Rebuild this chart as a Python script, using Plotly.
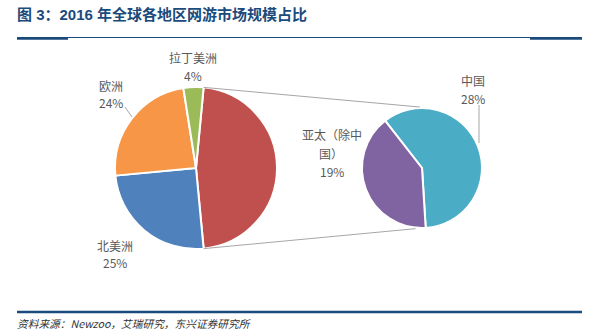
import math
import plotly.graph_objects as go

W, H = 593, 333

# Main pie: Asia-Pacific total is split out into the secondary pie
main_labels = ["亚太", "北美洲", "欧洲", "拉丁美洲"]
main_values = [47, 25, 24, 4]
main_colors = ["#C0504D", "#4F81BD", "#F79646", "#9BBB59"]

# Secondary pie: breakdown of Asia-Pacific
sub_labels = ["中国", "亚太（除中国）"]
sub_values = [28, 19]
sub_colors = ["#4BACC6", "#8064A2"]

title_text = "图 3：2016 年全球各地区网游市场规模占比"
source_text = "资料来源：Newzoo，艾瑞研究，东兴证券研究所"

FONT = "Noto Sans CJK SC, Noto Sans, sans-serif"
TITLE_FONT = "Liberation Sans, Noto Sans CJK SC, sans-serif"
LABEL_COLOR = "#595959"
NAVY = "#1B4A7C"

# Pie geometry in pixels (center x, center y, radius)
LC = (196, 168, 81)
RC = (422, 168, 60)


def px(x):
    return x / W


def py(y):
    return 1 - y / H


def domain(c):
    cx, cy, r = c
    return dict(x=[px(cx - r), px(cx + r)], y=[py(cy + r), py(cy - r)])


def point(c, ang_deg, rr=None):
    cx, cy, r = c
    rr = r if rr is None else rr
    a = math.radians(ang_deg)
    return cx + rr * math.sin(a), cy - rr * math.cos(a)


# The split slice is centred at 3 o'clock
split_share = main_values[0] / sum(main_values) * 360
main_rot = 90 - split_share / 2
sub_rot = -38

fig = go.Figure()
fig.add_trace(go.Pie(
    labels=main_labels, values=main_values, sort=False, direction="clockwise",
    rotation=main_rot, domain=domain(LC), textinfo="none", hoverinfo="label+value",
    marker=dict(colors=main_colors, line=dict(color="white", width=2)),
    showlegend=False,
))
fig.add_trace(go.Pie(
    labels=sub_labels, values=sub_values, sort=False, direction="clockwise",
    rotation=sub_rot, domain=domain(RC), textinfo="none", hoverinfo="label+value",
    marker=dict(colors=sub_colors, line=dict(color="white", width=2)),
    showlegend=False,
))

shapes = []
# Connector lines between the split slice and the secondary pie
a_start = main_rot
a_end = main_rot + split_share
for la, ra in [(a_start, -2), (a_end, 186)]:
    x0, y0 = point(LC, la)
    x1, y1 = point(RC, ra, RC[2] + 1)
    shapes.append(dict(type="line", xref="paper", yref="paper",
                       x0=px(x0), y0=py(y0), x1=px(x1), y1=py(y1),
                       line=dict(color="#A6A6A6", width=1)))

# Leader lines
for (x0, y0, x1, y1) in [(125, 107, 132, 117), (479, 105, 479, 143)]:
    shapes.append(dict(type="line", xref="paper", yref="paper",
                       x0=px(x0), y0=py(y0), x1=px(x1), y1=py(y1),
                       line=dict(color="#A6A6A6", width=1)))

# Header rule
shapes.append(dict(type="line", xref="paper", yref="paper",
                   x0=px(17), x1=px(582), y0=py(37.5), y1=py(37.5),
                   line=dict(color=NAVY, width=1)))
for xa, xb in [(17, 68), (530, 582)]:
    shapes.append(dict(type="line", xref="paper", yref="paper",
                       x0=px(xa), x1=px(xb), y0=py(38.5), y1=py(38.5),
                       line=dict(color=NAVY, width=2.5)))
# Footer rule
shapes.append(dict(type="line", xref="paper", yref="paper",
                   x0=px(17), x1=px(582), y0=py(312), y1=py(312),
                   line=dict(color=NAVY, width=2.5)))

annotations = []


def text_at(x, y, s, size=12, color=LABEL_COLOR, anchor="center", family=FONT, **font_kw):
    annotations.append(dict(
        xref="paper", yref="paper", x=px(x), y=py(y), text=s, showarrow=False,
        xanchor=anchor, yanchor="middle",
        font=dict(family=family, size=size, color=color, **font_kw),
    ))


def pct(v):
    return f"{v}%"


# Slice labels (name line(s), then value)
text_at(193, 58, main_labels[3])
text_at(193, 75, pct(main_values[3]))
text_at(111, 86, main_labels[2])
text_at(111, 102, pct(main_values[2]))
text_at(115, 245, main_labels[1])
text_at(115, 262, pct(main_values[1]))
text_at(473, 80, sub_labels[0])
text_at(473, 98, pct(sub_values[0]))
text_at(332, 134, sub_labels[1][:5])
text_at(331, 153, sub_labels[1][5:])
text_at(332, 171, pct(sub_values[1]))

# Title and source note
text_at(15, 14, title_text, size=15, color=NAVY, anchor="left",
        family=TITLE_FONT, weight="bold")
text_at(15, 323, source_text, size=10.7, color="#333333", anchor="left", style="italic")

fig.update_layout(
    width=W, height=H, margin=dict(l=0, r=0, t=0, b=0),
    paper_bgcolor="white", plot_bgcolor="white",
    shapes=shapes, annotations=annotations,
)

fig.write_html("out.html")
